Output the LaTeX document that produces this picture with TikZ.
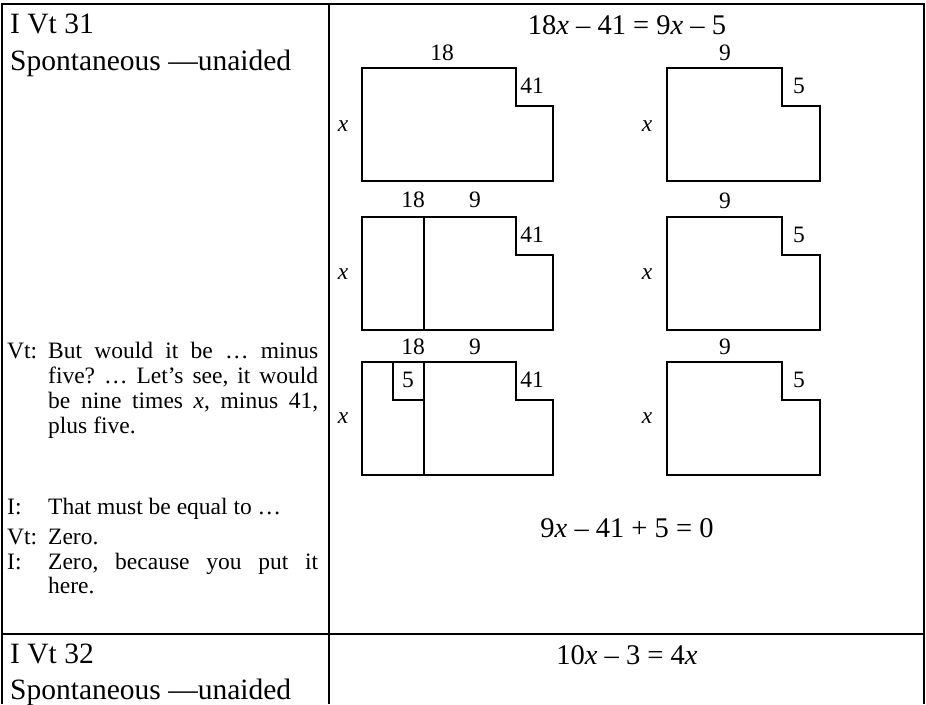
\documentclass[tikz,border=0pt]{standalone}
\usepackage{fontspec}
\setmainfont{Liberation Serif}
\usetikzlibrary{positioning}
\frenchspacing
\tikzset{
  rule/.style={line width=1.5pt},
  fig/.style={line width=2pt, line join=miter},
  head/.style={anchor=base west, inner sep=0pt, font=\fontsize{29.5}{33}\selectfont},
  eqn/.style={inner sep=0pt, font=\fontsize{28.5}{33}\selectfont},
  lbl/.style={inner sep=0pt, font=\fontsize{23.5}{26}\selectfont},
  talk/.style={anchor=base west, inner sep=0pt, font=\fontsize{23.5}{25}\selectfont},
}

\begin{document}
\begin{tikzpicture}[x=1pt,y=-1pt]
  \useasboundingbox (0,0) rectangle (926,704);
  % table rules
  \draw[rule] (2,704) -- (2,4) -- (924,4) -- (924,704);
  \draw[rule] (329,4) -- (329,704);
  \draw[rule] (2,634) -- (924,634);

  % left cell
  \node[head] (id31) at (10,33) {I Vt 31};
  \node[head] (how31) at (10,70) {Spontaneous —unaided};
  \node[talk] (vt1) at (7,358) {Vt:};
  \node[talk] (say1a) at (48,358) {\makebox[270pt][s]{But would it be … minus}};
  \node[talk] (say1b) at (48,383) {\makebox[270pt][s]{five? … Let’s see, it would}};
  \node[talk] (say1c) at (48,408) {\makebox[270pt][s]{be nine times \textit{x}, minus 41,}};
  \node[talk] (say1d) at (48,433) {plus five.};
  \node[talk] (i1) at (7,514) {I:};
  \node[talk] (say2) at (48,514) {That must be equal to …};
  \node[talk] (vt2) at (7,544) {Vt:};
  \node[talk] (say3) at (48,544) {Zero.};
  \node[talk] (i2) at (7,569) {I:};
  \node[talk] (say4a) at (48,569) {\makebox[270pt][s]{Zero, because you put it}};
  \node[talk] (say4b) at (48,593) {here.};

  % right cell
  \node[eqn] (eq1) at (627,25) {18\textit{x} – 41 = 9\textit{x} – 5};

  % first row
  \draw[fig] (362,68) -- (516,68) -- (516,106) -- (553,106) -- (553,181) -- (362,181) -- cycle;
  \node[lbl] (a18) at (442,53) {18};
  \node[lbl] (a41) at (532,86) {41};
  \node[lbl] (ax) at (343,126) {\textit{x}};
  \draw[fig] (667,68) -- (782,68) -- (782,106) -- (820,106) -- (820,181) -- (667,181) -- cycle;
  \node[lbl] (b9) at (725,53) {9};
  \node[lbl] (b5) at (799,86) {5};
  \node[lbl] (bx) at (647,126) {\textit{x}};

  % second row
  \draw[fig] (362,217) -- (516,217) -- (516,255) -- (553,255) -- (553,330) -- (362,330) -- cycle;
  \draw[fig] (424,217) -- (424,330);
  \node[lbl] (c18) at (413,200) {18};
  \node[lbl] (c9) at (475,200) {9};
  \node[lbl] (c41) at (532,235) {41};
  \node[lbl] (cx) at (343,274) {\textit{x}};
  \draw[fig] (667,217) -- (782,217) -- (782,255) -- (820,255) -- (820,330) -- (667,330) -- cycle;
  \node[lbl] (d9) at (725,201) {9};
  \node[lbl] (d5) at (799,235) {5};
  \node[lbl] (dx) at (647,274) {\textit{x}};

  % third row
  \draw[fig] (362,362) -- (516,362) -- (516,400) -- (553,400) -- (553,475) -- (362,475) -- cycle;
  \draw[fig] (424,362) -- (424,475);
  \draw[fig] (393,362) -- (393,400) -- (424,400);
  \node[lbl] (e18) at (413,347) {18};
  \node[lbl] (e9) at (475,347) {9};
  \node[lbl] (e5) at (408,380) {5};
  \node[lbl] (e41) at (532,380) {41};
  \node[lbl] (ex) at (343,418) {\textit{x}};
  \draw[fig] (667,362) -- (782,362) -- (782,400) -- (820,400) -- (820,475) -- (667,475) -- cycle;
  \node[lbl] (f9) at (725,347) {9};
  \node[lbl] (f5) at (799,380) {5};
  \node[lbl] (fx) at (647,418) {\textit{x}};

  \node[eqn] (eq2) at (627,528) {9\textit{x} – 41 + 5 = 0};

  % next entry
  \node[head] (id32) at (10,663) {I Vt 32};
  \node[head] (how32) at (10,699) {Spontaneous —unaided};
  \node[eqn] (eq3) at (627,655) {10\textit{x} – 3 = 4\textit{x}};
\end{tikzpicture}
\end{document}
